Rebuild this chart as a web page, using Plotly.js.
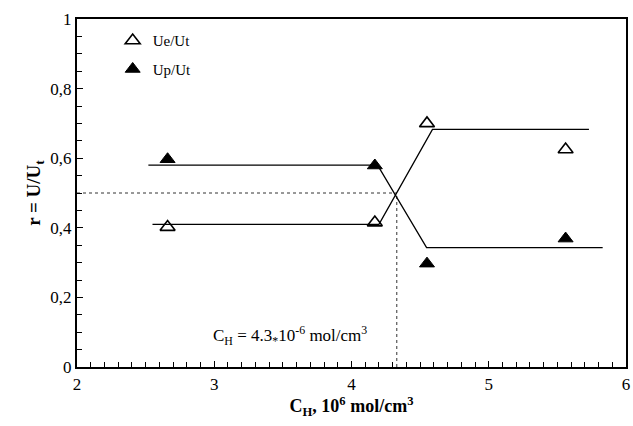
<!DOCTYPE html>
<html>
<head>
<meta charset="utf-8">
<script src="https://cdn.plot.ly/plotly-3.0.1.min.js"></script>
<style>html,body{margin:0;padding:0;background:#fff;}#chart{width:633px;height:426px;}</style>
</head>
<body>
<div id="chart"></div>
<script>
// Measured points
const cH = [2.66, 4.17, 4.55, 5.56];
const ueUt = [0.402, 0.415, 0.700, 0.625];
const upUt = [0.597, 0.579, 0.297, 0.369];
// Fitted step lines
const ueFitX = [2.55, 4.20, 4.59, 5.73];
const ueFitY = [0.41, 0.41, 0.683, 0.683];
const upFitX = [2.52, 4.19, 4.547, 5.83];
const upFitY = [0.58, 0.58, 0.343, 0.343];
// Crossing guide
const crossX = 4.33;
const crossY = 0.5;
const xMin = 2, xMax = 6, yMin = 0, yMax = 1;
// Ticks
const xTickVals = [2, 3, 4, 5, 6];
const xTickText = ["2", "3", "4", "5", "6"];
const yTickVals = [0, 0.2, 0.4, 0.6, 0.8, 1];
const yTickText = ["0", "0,2", "0,4", "0,6", "0,8", "1"];
const seriesNames = ["Ue/Ut", "Up/Ut"];
const annText = "C<sub>H</sub> = 4.3<sub>*</sub>10<sup>-6</sup> mol/cm<sup>3</sup>";
const xTitle = "<b>C<sub>H</sub>, 10<sup>6</sup> mol/cm<sup>3</sup></b>";
const yTitle = "<b>r = U/U<sub>t</sub></b>";

const serif = '"Liberation Serif", "Times New Roman", serif';

const traces = [
  {x: [xMin, crossX], y: [crossY, crossY], mode: "lines", line: {color: "#333", width: 1, dash: "dot"}, showlegend: false, hoverinfo: "skip"},
  {x: [crossX, crossX], y: [yMin, crossY], mode: "lines", line: {color: "#333", width: 1, dash: "dot"}, showlegend: false, hoverinfo: "skip"},
  {x: ueFitX, y: ueFitY, mode: "lines", line: {color: "#000", width: 1.3}, showlegend: false},
  {x: upFitX, y: upFitY, mode: "lines", line: {color: "#000", width: 1.3}, showlegend: false},
  {x: cH, y: ueUt, name: seriesNames[0], mode: "markers", legendgroup: "a",
   marker: {symbol: "triangle-up-open", size: 13, color: "#000", line: {color: "#000", width: 1.6}}},
  {x: cH, y: upUt, name: seriesNames[1], mode: "markers", legendgroup: "b",
   marker: {symbol: "triangle-up", size: 13, color: "#000", line: {color: "#000", width: 1}}}
];

const layout = {
  width: 633, height: 426,
  margin: {l: 77, r: 7, t: 19, b: 59},
  paper_bgcolor: "#fff", plot_bgcolor: "#fff",
  font: {family: serif, size: 16, color: "#000"},
  showlegend: true,
  legend: {x: 0.065, y: 0.985, xanchor: "left", yanchor: "top", bgcolor: "rgba(0,0,0,0)",
           font: {family: serif, size: 15, color: "#000"}, tracegroupgap: 6, itemwidth: 30},
  xaxis: {
    range: [xMin, xMax], tickvals: xTickVals, ticktext: xTickText,
    ticks: "inside", ticklen: 6, tickwidth: 1.3, tickcolor: "#000",
    minor: {dtick: 0.1, ticks: "inside", ticklen: 5, tickwidth: 1, tickcolor: "#000", showgrid: false},
    showline: true, linewidth: 2.2, linecolor: "#000", mirror: true,
    showgrid: false, zeroline: false,
    tickfont: {family: serif, size: 17, color: "#000"},
    title: {text: xTitle, font: {family: serif, size: 18, color: "#000"}, standoff: 5}
  },
  yaxis: {
    range: [yMin, yMax], tickvals: yTickVals, ticktext: yTickText,
    ticks: "inside", ticklen: 6, tickwidth: 1.3, tickcolor: "#000",
    minor: {dtick: 0.05, ticks: "inside", ticklen: 5, tickwidth: 1, tickcolor: "#000", showgrid: false},
    showline: true, linewidth: 2.2, linecolor: "#000", mirror: true,
    showgrid: false, zeroline: false,
    tickfont: {family: serif, size: 17, color: "#000"},
    title: {text: yTitle, font: {family: serif, size: 19, color: "#000"}, standoff: 5}
  },
  annotations: [
    {x: 3.55, y: 0.09, xref: "x", yref: "y", text: annText, showarrow: false,
     font: {family: serif, size: 17, color: "#000"}}
  ]
};

Plotly.newPlot("chart", traces, layout, {displayModeBar: false, staticPlot: true});
</script>
</body>
</html>
